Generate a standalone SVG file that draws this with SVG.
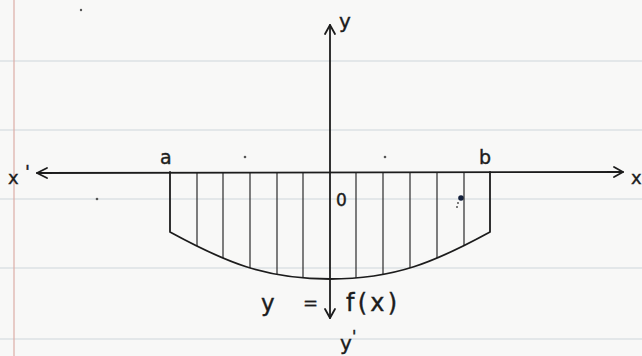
<svg xmlns="http://www.w3.org/2000/svg" width="642" height="356" viewBox="0 0 642 356">
<style>
.ink{stroke:#1c1c1c;fill:none;stroke-width:1.8;stroke-linecap:round;stroke-linejoin:round}
.hatch{stroke:#2a2a2a;fill:none;stroke-width:1.2}
.rule{stroke:#cdd5dc;stroke-width:1.2}
.lbl{font-family:"DejaVu Sans","Liberation Sans",sans-serif;fill:#1c1c1c;stroke:#1c1c1c;stroke-width:0.4}
.dot{fill:#555}
</style>
<defs>
<clipPath id="regionClip">
<path d="M170,172 L170,232 C225,262 265,279 330,279 C395,279 435,262 490,232 L490,172 Z"/>
</clipPath>
</defs>
<rect width="642" height="356" fill="#f8f8f7"/>
<g id="paper">
<line class="rule" x1="0" y1="61" x2="642" y2="61"/>
<line class="rule" x1="0" y1="130" x2="642" y2="130"/>
<line class="rule" x1="0" y1="199" x2="642" y2="199"/>
<line class="rule" x1="0" y1="268" x2="642" y2="268"/>
<line class="rule" x1="0" y1="339" x2="642" y2="339"/>
<line x1="14" y1="0" x2="14" y2="356" stroke="#dcaea6" stroke-width="1.2"/>
<circle class="dot" cx="81" cy="10" r="1.2"/>
<circle class="dot" cx="245" cy="157" r="1.3"/>
<circle class="dot" cx="385" cy="157" r="1.3"/>
<circle class="dot" cx="97" cy="199" r="1.3"/>
<circle cx="461" cy="198" r="2.8" fill="#14213d"/>
<circle class="dot" cx="458" cy="203" r="1"/>
<circle class="dot" cx="457" cy="207" r="1"/>
</g>
<g id="region">
<g clip-path="url(#regionClip)">
<line class="hatch" x1="197" y1="172" x2="197" y2="290"/>
<line class="hatch" x1="223" y1="172" x2="223" y2="290"/>
<line class="hatch" x1="250" y1="172" x2="250" y2="290"/>
<line class="hatch" x1="277" y1="172" x2="277" y2="290"/>
<line class="hatch" x1="303" y1="172" x2="303" y2="290"/>
<line class="hatch" x1="356" y1="172" x2="356" y2="290"/>
<line class="hatch" x1="383" y1="172" x2="383" y2="290"/>
<line class="hatch" x1="410" y1="172" x2="410" y2="290"/>
<line class="hatch" x1="437" y1="172" x2="437" y2="290"/>
<line class="hatch" x1="464" y1="172" x2="464" y2="290"/>
</g>
<path class="ink" d="M170,172 L170,232 C225,262 265,279 330,279 C395,279 435,262 490,232 L490,172"/>
</g>
<g id="connectors">
<g id="x-axis">
<line class="ink" x1="37" y1="173" x2="623" y2="172"/>
<polyline class="ink" points="47,168 37,173 47,178"/>
<polyline class="ink" points="614,167 623,172 614,177"/>
</g>
<g id="y-axis">
<line class="ink" x1="330" y1="25" x2="330" y2="318"/>
<polyline class="ink" points="325,34 330,25 335,34"/>
<polyline class="ink" points="325,309 330,318 335,309"/>
</g>
</g>
<g id="labels">
<text class="lbl" x="8" y="184" font-size="18">x</text>
<text class="lbl" x="25" y="178" font-size="18">'</text>
<text class="lbl" x="631" y="184" font-size="18">x</text>
<text class="lbl" x="339" y="28" font-size="20">y</text>
<text class="lbl" x="340" y="350" font-size="20">y</text>
<text class="lbl" x="352" y="342" font-size="16">'</text>
<text class="lbl" x="160" y="164" font-size="19">a</text>
<text class="lbl" x="479" y="164" font-size="19">b</text>
<text class="lbl" x="336" y="206" font-size="17">0</text>
<text class="lbl" x="261" y="311" font-size="23">y</text>
<text class="lbl" x="303" y="309" font-size="18">=</text>
<text class="lbl" x="346" y="311" font-size="24" textLength="51" lengthAdjust="spacing">f(x)</text>
</g>
</svg>
